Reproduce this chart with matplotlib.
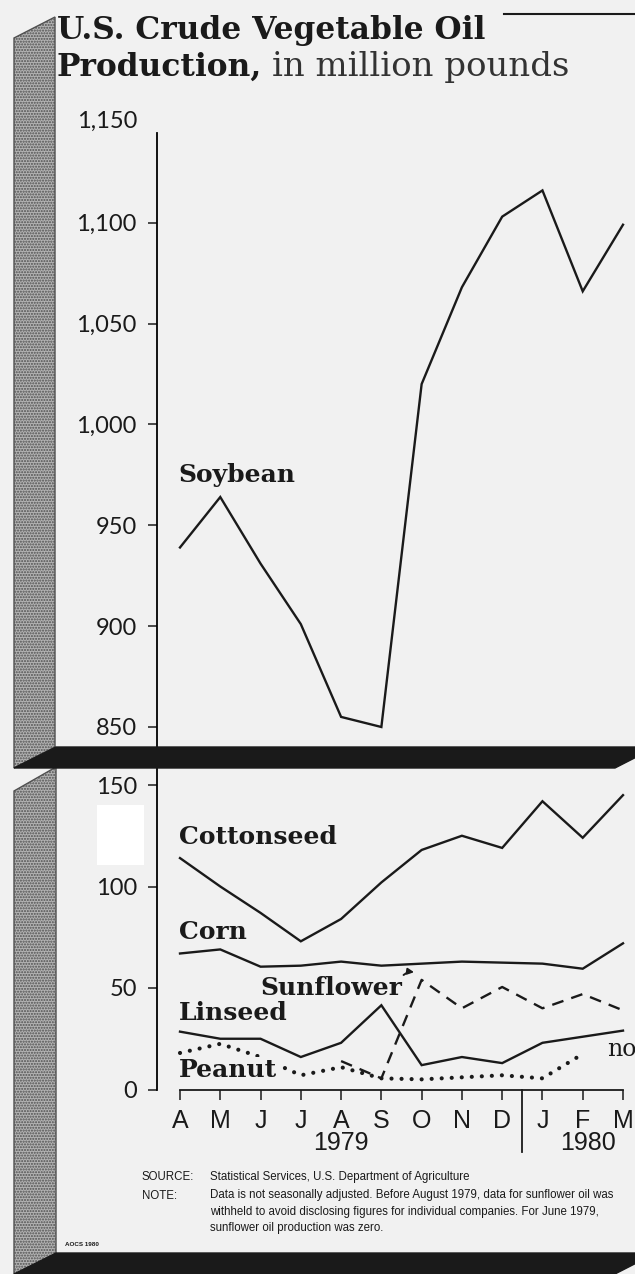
"""U.S. crude vegetable oil production, Apr 1979 - Mar 1980 (AOCS 1980 chart)."""

import numpy as np
import matplotlib.pyplot as plt
from matplotlib.patches import Polygon, Rectangle

# ---- data (million pounds) ----
months = ["A", "M", "J", "J", "A", "S", "O", "N", "D", "J", "F", "M"]
soybean = [939, 964, 931, 901, 855, 850, 1020, 1068, 1103, 1116, 1066, 1099]
cottonseed = [114, 100, 87, 73, 84, 102, 118, 125, 119, 142, 124, 145]
corn = [67, 69, 60.5, 61, 63, 61, 62, 63, 62.5, 62, 59.5, 72]
linseed = [28.5, 25, 25, 16, 23, 41.5, 12, 16, 13, 23, 26, 29]
peanut = [18, 22.5, 16, 7, 11, 5.5, 5, 6, 7, 5.5, 17.5, np.nan]
sunflower = [np.nan, np.nan, np.nan, np.nan, 14, 5.5, 54, 40, 50.5, 40, 47, 39]

upper_ticks = [850, 900, 950, 1000, 1050, 1100]
lower_ticks = [0, 50, 100, 150]

BG = "#f1f1f1"
INK = "#1a1a1a"
W, H = 635, 1274
SERIF = "DejaVu Serif"

fig = plt.figure(figsize=(W / 100, H / 100), dpi=100)
fig.patch.set_facecolor(BG)


def box(x0, y0, x1, y1):
    # pixel box (top-left origin) -> figure fraction rect
    return [x0 / W, 1 - y1 / H, (x1 - x0) / W, (y1 - y0) / H]


def pixel_axes():
    a = fig.add_axes([0, 0, 1, 1])
    a.set_xlim(0, W)
    a.set_ylim(H, 0)
    a.axis("off")
    a.patch.set_alpha(0)
    return a


# ---- decoration layer in pixel coordinates ----
bg = pixel_axes()

stipple = dict(facecolor="#b3b3b3", edgecolor="#505050", hatch="......", lw=1.0)
bg.add_patch(Polygon([(14, 38), (55, 17), (55, 747), (14, 768)], **stipple))
bg.add_patch(Polygon([(14, 791), (56, 767), (56, 1274), (14, 1274)], **stipple))
bg.add_patch(Rectangle((97, 805), 47, 60, facecolor="white", edgecolor="none"))
bg.plot([504, 635], [14, 14], color=INK, lw=1.5)

bg.text(57, 39, "U.S. Crude Vegetable Oil", family=SERIF, weight="bold",
        fontsize=22.5, color=INK, va="baseline")
bg.text(57, 76, "Production,", family=SERIF, weight="bold",
        fontsize=22.5, color=INK, va="baseline")
bg.text(272, 76, "in million pounds", family=SERIF, fontsize=24.5,
        color="#333333", va="baseline")

fn = "Liberation Sans"
fs = 8.3
bg.text(142, 1177, "SOURCE:", family=fn, fontsize=fs, va="center", color=INK)
bg.text(210, 1177, "Statistical Services, U.S. Department of Agriculture",
        family=fn, fontsize=fs, va="center", color=INK)
bg.text(142, 1196, "NOTE:", family=fn, fontsize=fs, va="center", color=INK)
note = ("Data is not seasonally adjusted. Before August 1979, data for sunflower oil was\n"
        "withheld to avoid disclosing figures for individual companies. For June 1979,\n"
        "sunflower oil production was zero.")
bg.text(210, 1189, note, family=fn, fontsize=fs, va="top", color=INK,
        linespacing=1.5)
bg.text(65, 1245, "AOCS 1980", family="Liberation Sans", weight="bold",
        fontsize=4.5, va="center", color=INK)

# ---- shared x geometry: A (Apr) at 180 px, M (Mar) at 623 px ----
x = np.arange(len(months))
step = (623 - 180) / 11
xlim = ((157 - 180) / step, (635 - 180) / step)
line_kw = dict(color=INK, lw=1.7, solid_joinstyle="miter")

# ---- upper panel: soybean ----
ppu = (727 - 222.7) / 250
ax1 = fig.add_axes(box(157, 133, 635, 747))
ax1.patch.set_alpha(0)
ax1.set_xlim(*xlim)
ax1.set_ylim(850 - (747 - 727) / ppu, 1100 + (222.7 - 133) / ppu)
ax1.plot(x, soybean, **line_kw)
for s in ["top", "right", "bottom"]:
    ax1.spines[s].set_visible(False)
ax1.spines["left"].set_linewidth(1.3)
ax1.set_xticks([])
ax1.set_yticks(upper_ticks)
ax1.set_yticklabels([f"{v:,}" for v in upper_ticks])
ax1.tick_params(axis="y", length=6.5, width=1.1, pad=8, labelsize=17,
                colors=INK)
for lab in ax1.get_yticklabels():
    lab.set_family("Lato")
ax1.text(-0.571 - 20 / step, 1150, "1,150", family="Lato", fontsize=17,
         ha="right", va="center", color=INK, clip_on=False)
ax1.text(-0.05, 975, "Soybean", family=SERIF, weight="bold", fontsize=18,
         va="center", color=INK)

# ---- lower panel: the smaller oils ----
ppl = 2.03
ax2 = fig.add_axes(box(157, 768, 635, 1089.5))
ax2.patch.set_alpha(0)
ax2.set_xlim(*xlim)
ax2.set_ylim(0, (1089.5 - 768) / ppl)
ax2.plot(x, cottonseed, **line_kw)
ax2.plot(x, corn, **line_kw)
ax2.plot(x, linseed, **line_kw)
ax2.plot(x, sunflower, color=INK, lw=1.7, linestyle=(0, (5, 3.5)))
ax2.plot(x, peanut, color=INK, lw=3.0, linestyle=(0, (0.01, 2.4)),
         dash_capstyle="round")
ax2.plot([0, 11], [0, 0], color=INK, lw=1.3, clip_on=False)
ax2.plot([8.5, 8.5], [0, -31], color=INK, lw=1.3, clip_on=False)

for s in ["top", "right", "bottom"]:
    ax2.spines[s].set_visible(False)
ax2.spines["left"].set_linewidth(1.3)
ax2.set_yticks(lower_ticks)
ax2.set_yticklabels([str(v) for v in lower_ticks])
ax2.tick_params(axis="y", length=6.5, width=1.1, pad=8, labelsize=17,
                colors=INK)
for lab in ax2.get_yticklabels():
    lab.set_family("Lato")
ax2.set_xticks(x)
ax2.set_xticklabels(months)
ax2.tick_params(axis="x", length=7.2, width=1.1, pad=7, labelsize=18,
                colors=INK)
for lab in ax2.get_xticklabels():
    lab.set_family("Liberation Sans")
ax2.text(4, -26.5, "1979", family="Liberation Sans", fontsize=18,
         ha="center", va="center", color=INK)
ax2.text(10.13, -26.5, "1980", family="Liberation Sans", fontsize=18,
         ha="center", va="center", color=INK)

lab_kw = dict(family=SERIF, weight="bold", fontsize=18, va="center", color=INK)
ax2.text(-0.03, 124.4, "Cottonseed", **lab_kw)
ax2.text(-0.03, 77.6, "Corn", **lab_kw)
ax2.text(1.99, 50, "Sunflower", **lab_kw)
ax2.text(-0.03, 37.7, "Linseed", **lab_kw)
ax2.text(-0.03, 9.6, "Peanut", bbox=dict(facecolor=BG, edgecolor="none", pad=0.5),
         **lab_kw)
ax2.annotate("", xy=(5.88, 57.5), xytext=(5.5, 55.5),
             arrowprops=dict(arrowstyle="-|>", color=INK, lw=1.4,
                             mutation_scale=9,
                             connectionstyle="arc3,rad=-0.3"))
ax2.text(10.6, 19.5, "no", family=SERIF, fontsize=17, va="center",
         color=INK, clip_on=False)

# ---- black bands on top of everything (they cover the axis ends) ----
top = pixel_axes()
top.add_patch(Polygon([(14, 768), (56, 747), (656, 747), (615, 768)],
                      facecolor=INK, edgecolor=INK, lw=1))
top.add_patch(Polygon([(14, 1274), (56, 1253), (656, 1253), (615, 1274)],
                      facecolor=INK, edgecolor=INK, lw=1))

fig.savefig("out.png", dpi=100, facecolor=fig.get_facecolor())
